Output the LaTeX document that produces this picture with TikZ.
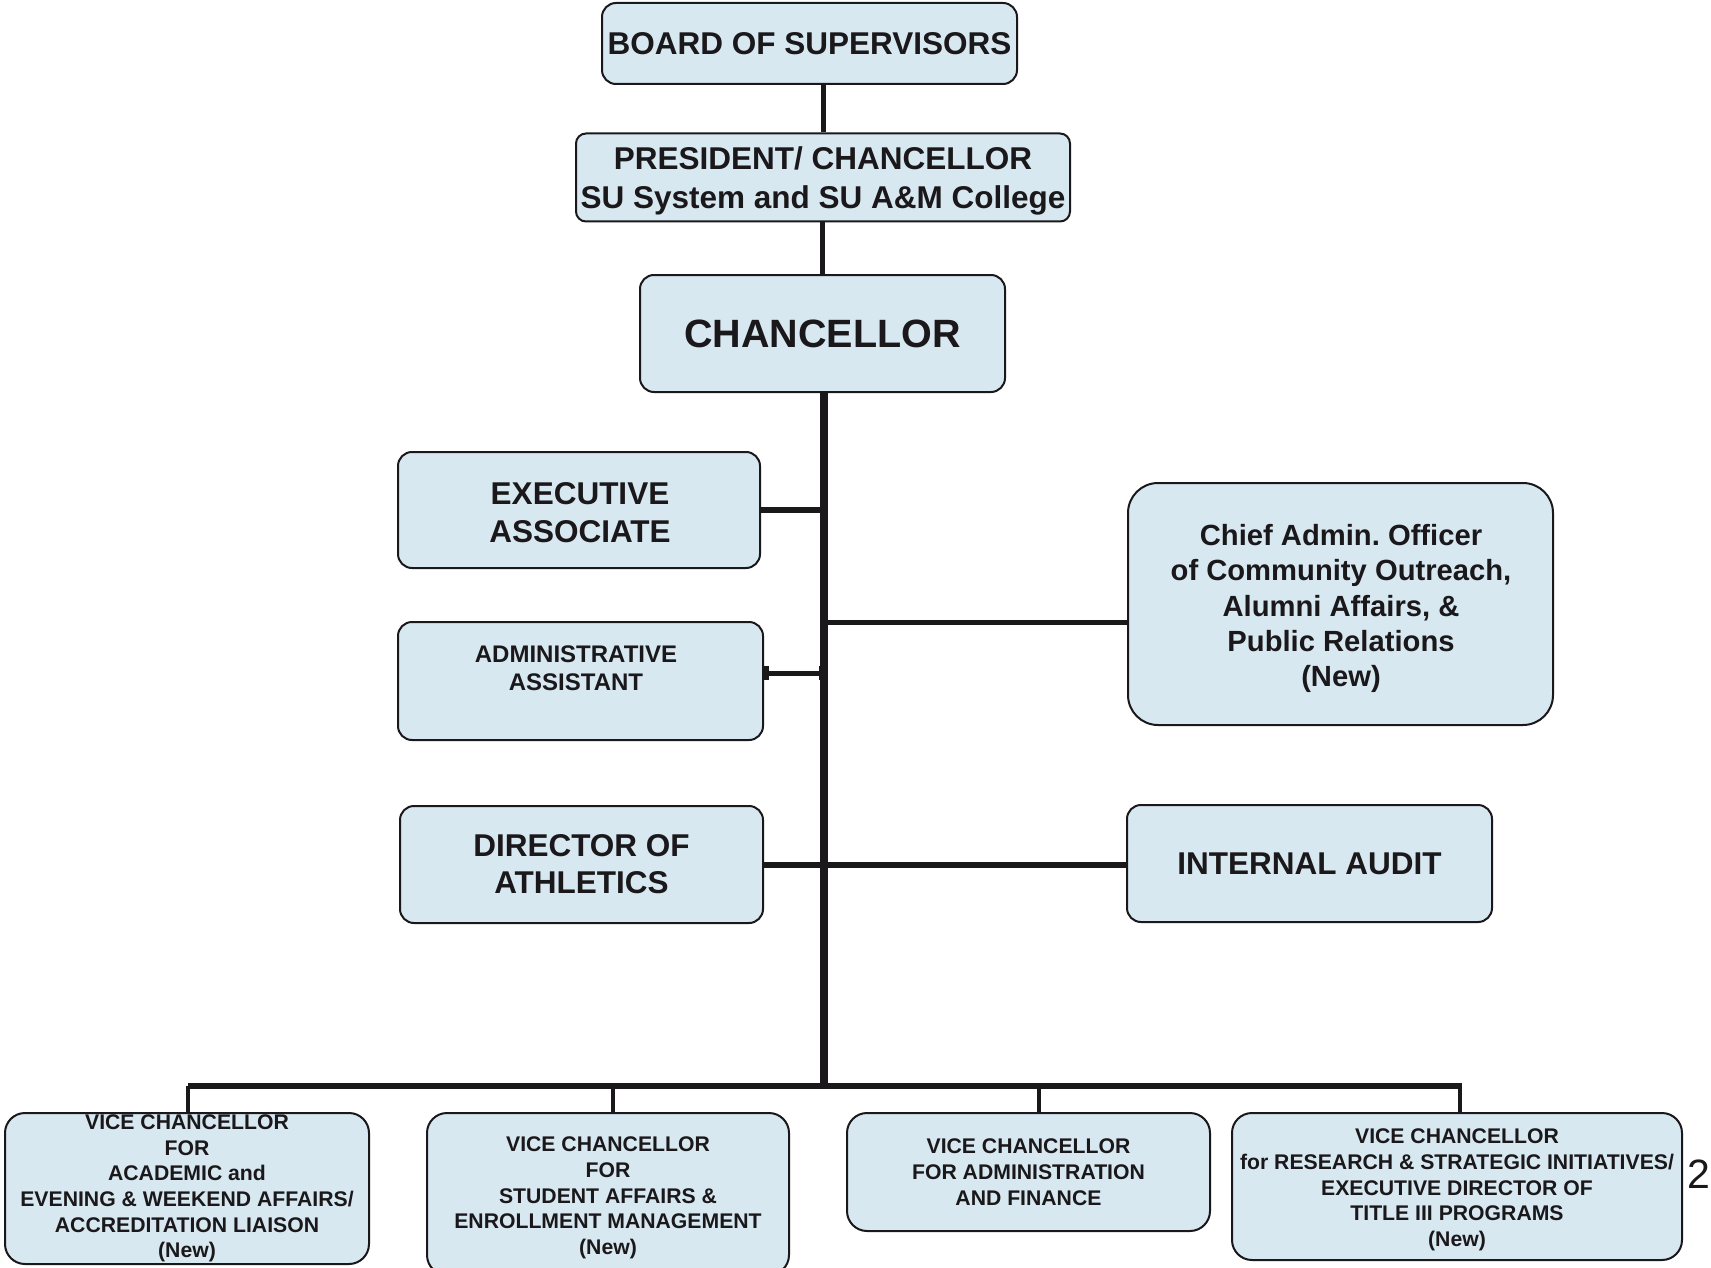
\documentclass[tikz,border=0pt]{standalone}
\usepackage{fontspec}
\setmainfont{Liberation Sans}
\usetikzlibrary{arrows.meta}
\definecolor{boxblue}{RGB}{216,232,241}
\definecolor{ink}{RGB}{26,24,26}
\begin{document}
\frenchspacing
\begin{tikzpicture}[x=1pt,y=-1pt,
  box/.style={draw=ink, line width=2pt, fill=boxblue, rounded corners=14pt, inner sep=0pt, align=center, text=ink},
  txt/.style={text=ink, align=center, inner sep=0pt},
  bigtxt/.style={font=\fontsize{31.5}{39.5}\selectfont\bfseries},
  smalltxt/.style={font=\fontsize{21.2}{25.7}\selectfont\bfseries},
  conn/.style={draw=ink, line width=5pt},
  trunk/.style={draw=ink, line width=8pt},
  barline/.style={draw=ink, line width=6.5pt},
  drop/.style={draw=ink, line width=4pt}]
\useasboundingbox[fill=white] (0,0) rectangle (1711,1268);

% top chain
\node[box, bigtxt, minimum width=415pt, minimum height=81pt] (bos) at (809.5,43.5) {BOARD OF SUPERVISORS};
\node[box, minimum width=494pt, minimum height=88pt, rounded corners=10pt] (pres) at (823,177.5) {};
\node[txt, bigtxt] (prestext) at (823,181) {PRESIDENT/ CHANCELLOR\\SU System and SU A\&M College};
\node[box, font=\fontsize{39.5}{46}\selectfont\bfseries, minimum width=365pt, minimum height=117pt] (chan) at (822.5,333.5) {CHANCELLOR};

% staff boxes
\node[box, minimum width=362pt, minimum height=116pt] (ea) at (579,510) {};
\node[txt, font=\fontsize{31.5}{38}\selectfont\bfseries] (eatext) at (580,512.5) {EXECUTIVE\\ASSOCIATE};
\node[box, minimum width=365pt, minimum height=118pt] (aa) at (580.5,681) {};
\node[txt, font=\fontsize{24}{28.5}\selectfont\bfseries] (aatext) at (576,668) {ADMINISTRATIVE\\ASSISTANT};
\node[box, minimum width=363pt, minimum height=117pt, font=\fontsize{31.5}{37}\selectfont\bfseries] (dir) at (581.5,864.5) {DIRECTOR OF\\ATHLETICS};
\node[box, minimum width=425pt, minimum height=242pt, rounded corners=30pt] (chief) at (1340.5,604) {};
\node[txt, font=\fontsize{29.2}{35.2}\selectfont\bfseries] (chieftext) at (1341,608.5) {Chief Admin. Officer\\of Community Outreach,\\Alumni Affairs, \&\\Public Relations\\(New)};
\node[box, bigtxt, minimum width=365pt, minimum height=117pt] (audit) at (1309.5,863.5) {INTERNAL AUDIT};

% vice chancellors
\node[box, smalltxt, minimum width=364pt, minimum height=151pt, rounded corners=20pt] (vc1) at (187,1188.5) {VICE CHANCELLOR\\FOR\\ACADEMIC and\\EVENING \& WEEKEND AFFAIRS/\\ACCREDITATION LIAISON\\(New)};
\node[box, minimum width=362pt, minimum height=162pt, rounded corners=20pt] (vc2) at (608,1194) {};
\node[txt, smalltxt] (vc2text) at (608,1198) {VICE CHANCELLOR\\FOR\\STUDENT AFFAIRS \&\\ENROLLMENT MANAGEMENT\\(New)};
\node[box, smalltxt, minimum width=363pt, minimum height=118pt, rounded corners=20pt] (vc3) at (1028.5,1172) {VICE CHANCELLOR\\FOR ADMINISTRATION\\AND FINANCE};
\node[box, minimum width=450pt, minimum height=147pt, rounded corners=20pt] (vc4) at (1457,1186.5) {};
\node[txt, smalltxt] (vc4text) at (1457,1190) {VICE CHANCELLOR\\for RESEARCH \& STRATEGIC INITIATIVES/\\EXECUTIVE DIRECTOR OF\\TITLE III PROGRAMS\\(New)};

\node[font=\fontsize{41}{46}\selectfont, text=ink, inner sep=0pt] (pg) at (1699,1174) {2};

% connectors
\coordinate (bar) at (824,1086);
\draw[conn] (pres.north) -- (pres.north |- bos.south);
\draw[conn] (chan.north) -- (chan.north |- pres.south);
\draw[trunk] ([xshift=1.5pt]chan.south) -- ([xshift=1.5pt]chan.south |- bar);
\draw[conn, line width=6pt] (ea.east) -- (ea.east -| bar);
\draw[conn, {Bar[width=14pt,length=2pt]}-{Bar[width=14pt,length=2pt]}] ([yshift=8pt]aa.east) -- ([yshift=8pt]aa.east -| bar);
\draw[conn] ([yshift=-18pt]chief.west) -- ([yshift=-18pt]chief.west -| bar);
\draw[conn, line width=6pt] (dir.east) -- (dir.east -| audit.west);
\draw[barline] ([xshift=1pt]vc1.north |- bar) -- ([xshift=5pt]vc4.north |- bar);
\draw[drop] ([xshift=1pt]vc1.north) -- ([xshift=1pt]vc1.north |- bar);
\draw[drop] ([xshift=5pt]vc2.north) -- ([xshift=5pt]vc2.north |- bar);
\draw[drop] ([xshift=10pt]vc3.north) -- ([xshift=10pt]vc3.north |- bar);
\draw[drop] ([xshift=3pt]vc4.north) -- ([xshift=3pt]vc4.north |- bar);
\end{tikzpicture}
\end{document}
